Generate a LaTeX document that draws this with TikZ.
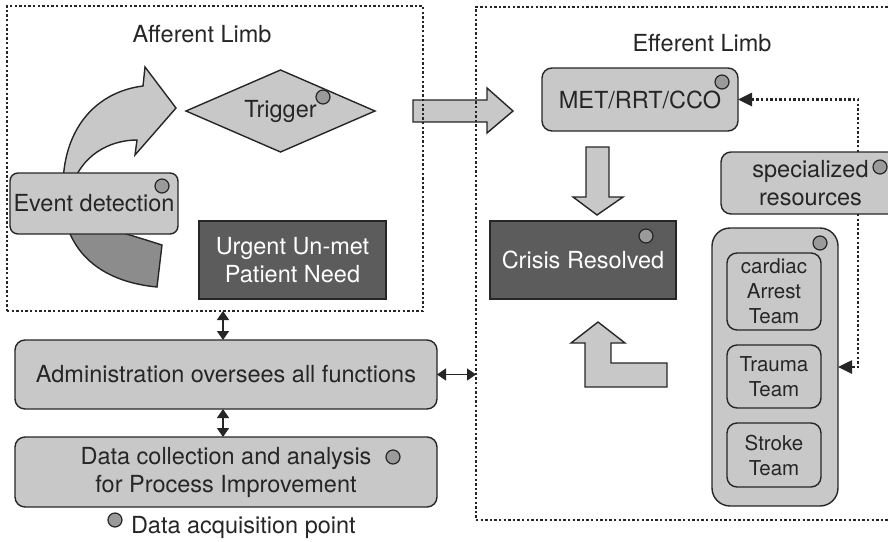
\documentclass[tikz,border=0pt]{standalone}
\usepackage{fontspec}
\setmainfont{TeX Gyre Heros}
\usetikzlibrary{arrows.meta,shapes.geometric}

\definecolor{boxfill}{HTML}{C8C8C8}
\definecolor{darkfill}{HTML}{5C5C5C}
\definecolor{tailfill}{HTML}{8C8C8C}
\definecolor{dotfill}{HTML}{9A9A9A}
\definecolor{ink}{HTML}{262626}

\begin{document}
\begin{tikzpicture}[x=1pt,y=-1pt,
  every node/.style={inner sep=0pt, outer sep=0pt, text=ink, align=center,
    font=\fontsize{23.5}{28}\selectfont},
  limb/.style={draw=ink, line width=2.6pt, dash pattern=on 2.4pt off 2.2pt},
  lightbox/.style={draw=ink, fill=boxfill, line width=1.4pt, rounded corners=10pt},
  darkbox/.style={draw=ink, fill=darkfill, line width=1.4pt, text=white},
  blockarrow/.style={draw=ink, fill=boxfill, line width=1.4pt, line join=miter},
  acq/.style={circle, draw=ink, fill=dotfill, line width=1.2pt, minimum size=14pt},
  teamtext/.style={font=\fontsize{20.5}{25}\selectfont},
  feed/.style={draw=ink, line width=2.6pt, dash pattern=on 2.4pt off 2.2pt,
    -{Triangle[length=14pt,width=13pt]}},
  link/.style={draw=ink, line width=1.6pt,
    {Triangle[length=9pt,width=12pt]}-{Triangle[length=9pt,width=12pt]}}
]
\useasboundingbox (0,0) rectangle (888,541);

% curved arrow from event detection up to the trigger
\path[blockarrow] (63,190) .. controls (62,130) and (95,92) .. (143,86)
  -- (145,67) -- (176,108) -- (135,155) -- (137,140)
  .. controls (110,140) and (80,155) .. (71,190) -- cycle;
% darker tail of the curved arrow
\path[blockarrow, fill=tailfill] (67,226) .. controls (80,265) and (115,283) .. (157,287)
  -- (162,245) .. controls (140,238) and (120,232) .. (100,226) -- cycle;

% block arrows
\path[blockarrow] (413,100) -- (487,100) -- (487,88) -- (513,111) -- (487,133)
  -- (487,122) -- (413,122) -- cycle;
\path[blockarrow] (586,147) -- (609,147) -- (609,197) -- (623,197) -- (597,215)
  -- (573,197) -- (586,197) -- cycle;
\path[blockarrow] (598,322) -- (625,343) -- (611,343) -- (611,363) -- (667,363)
  -- (667,387) -- (585,387) -- (585,343) -- (571,343) -- cycle;

% the two limbs
\node[limb, rectangle, minimum width=416pt, minimum height=305pt] (aff) at (215,158.5) {};
\node[limb, rectangle, minimum width=430pt, minimum height=513pt] (eff) at (691,263.5) {};
\node (afflabel) at (202,34) {Afferent Limb};
\node (efflabel) at (702,43) {Efferent Limb};

% afferent limb contents
\node[lightbox, rounded corners=8pt, minimum width=168pt, minimum height=61pt] (event) at (94,203.5) {Event detection};
\node[acq] (eventdot) at (162,186) {};
\node[diamond, aspect=2.3, draw=ink, fill=boxfill, line width=1.4pt,
  minimum width=189pt, minimum height=82pt] (trigger) at (280.5,111) {Trigger};
\node[acq] (triggerdot) at (323,97) {};
\node[darkbox, minimum width=187pt, minimum height=78pt] (need) at (292.5,260) {Urgent Un-met\\Patient Need};

% efferent limb contents
\node[lightbox, minimum width=196pt, minimum height=63pt] (met) at (640,99.5) {MET/RRT/CCO};
\node[acq] (metdot) at (722,82) {};
\node[darkbox, minimum width=186pt, minimum height=78pt] (crisis) at (583,260) {Crisis Resolved};
\node[acq] (crisisdot) at (646,236) {};
\node[lightbox, minimum width=179pt, minimum height=62pt] (spec) at (810.5,183) {specialized\\resources};
\node[acq] (specdot) at (880,167) {};
\node[lightbox, rounded corners=18pt, minimum width=126pt, minimum height=278pt] (teams) at (775,367) {};
\node[acq] (teamsdot) at (820,243) {};
\node[lightbox, teamtext, minimum width=94pt, minimum height=77pt] (cardiac) at (774,291.5) {cardiac\\Arrest\\Team};
\node[lightbox, teamtext, minimum width=94pt, minimum height=63pt] (trauma) at (774,376.5) {Trauma\\Team};
\node[lightbox, teamtext, minimum width=94pt, minimum height=64pt] (stroke) at (774,455) {Stroke\\Team};

% feedback from the specialized resources
\coordinate (spectop) at (858,152);
\coordinate (specbot) at (858,214);
\draw[feed] (spectop) |- (met.east);
\draw[feed] (specbot) |- (teams.east);

% oversight and data collection
\node[lightbox, minimum width=422pt, minimum height=69pt] (admin) at (226,374.5) {Administration oversees all functions};
\node[lightbox, minimum width=422pt, minimum height=70pt] (data) at (226,472) {Data collection and analysis\\for Process Improvement};
\node[acq] (datadot) at (393,457) {};

\coordinate (spine) at (223,0);
\draw[link] (aff.south -| spine) -- (admin.north -| spine);
\draw[link] (admin.south -| spine) -- (data.north -| spine);
\draw[link] (admin.east) -- (admin.east -| eff.west);

% legend
\node[acq] (legenddot) at (115,520) {};
\node[anchor=west] (legend) at (131,527) {Data acquisition point};
\end{tikzpicture}
\end{document}
